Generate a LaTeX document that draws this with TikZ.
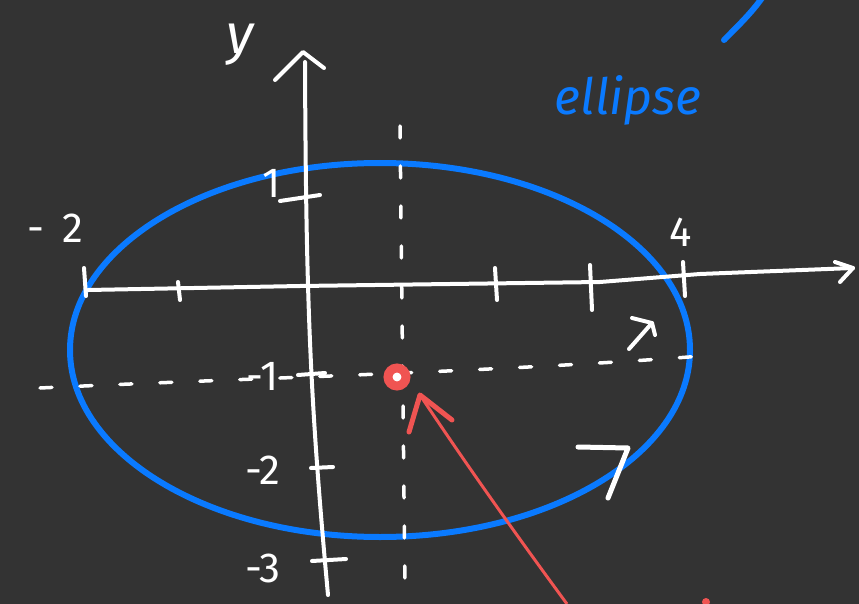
\documentclass[tikz,border=0pt]{standalone}
\usepackage{fontspec}
\setmainfont{Fira Sans}
\definecolor{bg}{RGB}{51,51,51}
\definecolor{pen}{RGB}{10,122,255}
\definecolor{redpen}{RGB}{240,84,82}
\begin{document}
\begin{tikzpicture}[x=1pt,y=-1pt,
  chalk/.style={white,line width=4pt,line cap=round,line join=round},
  dashline/.style={white,line width=3.5pt,line cap=round,dash pattern=on 12pt off 28pt},
  lbl/.style={white,font=\fontsize{42}{46}\selectfont,inner sep=0pt},
  blue stroke/.style={pen,line width=6pt,line cap=round}]
\fill[bg] (0,0) rectangle (859,604);
\useasboundingbox (0,0) rectangle (859,604);
% ellipse
\coordinate (ec) at (380,350);
\draw[blue stroke] (ec) ellipse [x radius=310pt, y radius=187pt];
% dashed guide lines
\coordinate (hl) at (40,388);
\coordinate (hr) at (715,355);
\draw[dashline] (hl) .. controls (250,378) and (500,372) .. (hr);
\coordinate (vt) at (400,126);
\coordinate (vb) at (405,590);
\draw[dashline] (vt) -- (vb);
% x axis
\coordinate (xa) at (88,290);
\coordinate (xb) at (853,268);
\draw[chalk] (xa) -- (300,286) -- (600,282) -- (700,274) -- (xb);
\draw[chalk] (835,262) -- (xb) -- (840,282);
% y axis
\coordinate (ya) at (305,62);
\coordinate (yb) at (328,595);
\draw[chalk] (ya) .. controls (306,300) and (310,400) .. (yb);
\draw[chalk] (275,80) -- (303,52) -- (324,68);
% x ticks
\foreach \x/\a/\b in {84/268/296,178/282/300,495/268/300,590/265/310,683/262/296}
  \draw[chalk] (\x,\a) -- (\x+2,\b);
% y ticks
\draw[chalk] (280,201) -- (320,195);
\draw[chalk] (298,375) -- (325,373);
\draw[chalk] (311,468) -- (333,467);
\draw[chalk] (312,561) -- (346,559);
% labels
\node[lbl,font=\fontsize{56}{60}\selectfont\itshape] (ylab) at (240,45) {y};
\node[lbl] (xm2) at (55,228) {-\hspace{18pt}2};
\node[lbl] (x4) at (681,232) {4};
\node[lbl] (y1) at (272,183) {1};
\node[lbl] (ym1) at (263,376) {-1};
\node[lbl] (ym2) at (263,470) {-2};
\node[lbl] (ym3) at (263,568) {-3};
\node[pen,font=\fontsize{50}{54}\selectfont\itshape,inner sep=0pt] (ell) at (628,100) {ellipse};
% top right blue stroke
\coordinate (bs) at (724,40);
\coordinate (be) at (762,-2);
\draw[blue stroke] (bs) .. controls (740,24) and (752,12) .. (be);
% white arrows
\coordinate (wa) at (628,448);
\draw[chalk,line width=5pt] (578,447) -- (wa) -- (608,498);
\coordinate (sa) at (652,323);
\draw[chalk] (629,349) -- (sa);
\draw[chalk] (632,318) -- (sa) -- (655,335);
% red point and arrow
\node[draw=redpen,line width=9pt,circle,minimum size=18pt,inner sep=0pt,fill=white] (pt) at (397,377) {};
\coordinate (ra) at (420,395);
\coordinate (rs) at (567,604);
\draw[redpen,line width=3pt] (rs) .. controls (520,540) and (470,470) .. (ra);
\draw[redpen,line width=5pt,line cap=round,line join=round] (409,432) -- (ra) -- (452,420);
\coordinate (rd) at (706,602);
\fill[redpen] (rd) circle (4pt);
\end{tikzpicture}
\end{document}
